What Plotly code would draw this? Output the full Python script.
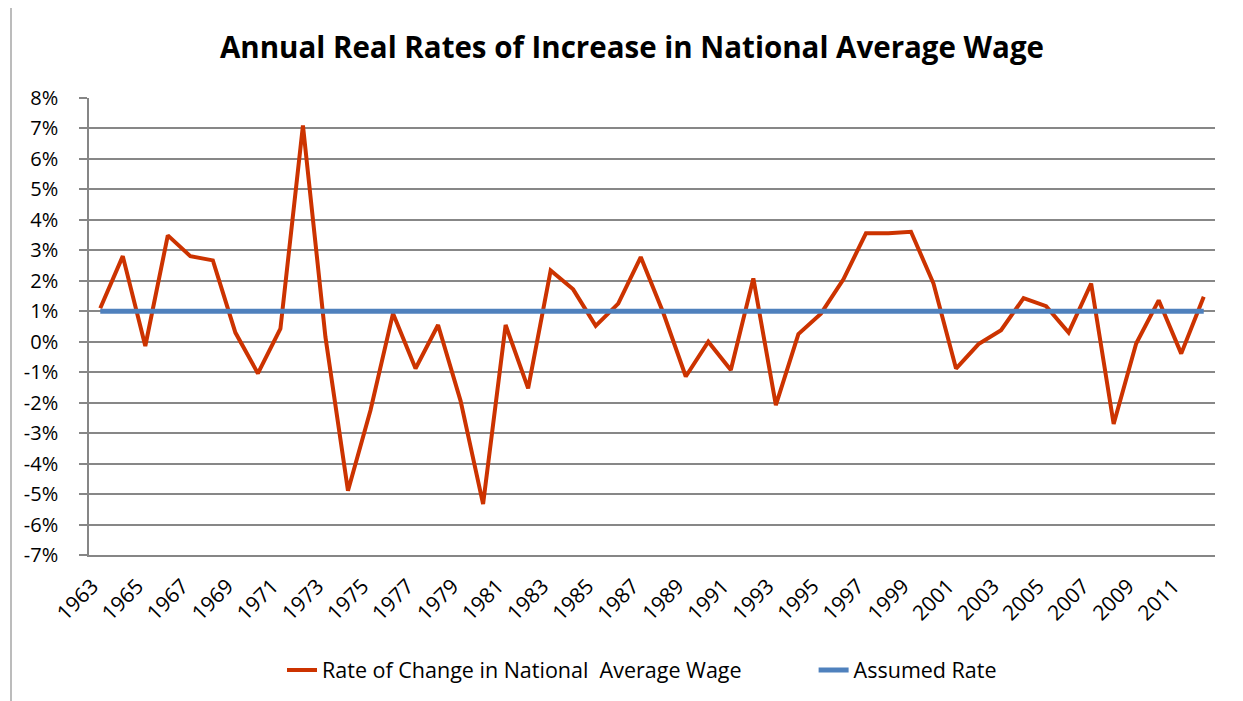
import plotly.graph_objects as go

years = [str(y) for y in range(1963, 2013)]
rate_change = [1.1, 2.81, -0.14, 3.49, 2.81, 2.67, 0.30, -1.04, 0.43, 7.10,
               0.15, -4.89, -2.25, 0.93, -0.88, 0.55, -1.94, -5.33, 0.55, -1.53,
               2.34, 1.72, 0.52, 1.25, 2.78, 0.95, -1.14, 0.0, -0.93, 2.08,
               -2.08, 0.25, 0.92, 2.05, 3.56, 3.56, 3.61, 1.91, -0.88, -0.08,
               0.38, 1.43, 1.17, 0.30, 1.91, -2.70, -0.06, 1.36, -0.39, 1.48]
assumed_rate = [1.0] * len(years)
y_ticks = list(range(-7, 9))
x_ticks = years[::2]

FONT = "Open Sans, sans-serif"

# page body has an 8px margin, so the figure is drawn 8px smaller and offset
W, H = 1235, 693
PAD = "\u00a0" * 12

fig = go.Figure()
fig.add_trace(go.Scatter(
    x=years, y=[v / 100 for v in rate_change], mode="lines",
    name="Rate of Change in National\u00a0 Average Wage" + PAD,
    line=dict(color="#CC3300", width=4), hoverinfo="x+y"))
fig.add_trace(go.Scatter(
    x=years, y=[v / 100 for v in assumed_rate], mode="lines",
    name="Assumed Rate",
    line=dict(color="#4F81BD", width=5), hoverinfo="x+y"))

fig.update_layout(
    width=W, height=H,
    margin=dict(l=81, r=28, t=90, b=146),
    paper_bgcolor="white", plot_bgcolor="white",
    font=dict(family=FONT, size=19, color="black"),
    title=dict(text="<b>Annual Real Rates of Increase in National Average Wage</b>",
               x=(632 - 8) / W, xref="container", xanchor="center",
               y=1 - 40 / H, yanchor="middle",
               font=dict(family=FONT, size=29.5, color="black")),
    showlegend=True,
    legend=dict(orientation="h", x=(282 - 8) / W, xanchor="left", xref="container",
                y=(H - 662) / H, yref="container", yanchor="middle",
                font=dict(family=FONT, size=21.5),
                traceorder="normal"),
    xaxis=dict(type="category", tickmode="array", tickvals=x_ticks, ticktext=x_ticks,
               tickangle=-45, showgrid=False, showline=True, linecolor="#868686",
               linewidth=1.5, ticks="", tickfont=dict(family=FONT, size=21),
               ticklabelshift=-8, ticklabelstandoff=9,
               range=[-0.5, len(years) - 0.5], fixedrange=True),
    yaxis=dict(range=[-0.07, 0.08], tickmode="array", tickvals=[t / 100 for t in y_ticks],
               ticktext=[f"{t}%" for t in y_ticks], showgrid=True,
               gridcolor="#878787", gridwidth=1.5, showline=True, linecolor="#868686",
               linewidth=1.5, ticks="outside", ticklen=8, tickcolor="#868686",
               tickwidth=1.5, zeroline=False, tickfont=dict(family=FONT, size=20),
               ticklabelstandoff=17, fixedrange=True),
    shapes=[dict(type="rect", xref="paper", yref="paper",
                 x0=(11 - 89) / 1126, x1=1.2, y0=-0.5, y1=(555 - 7) / 457,
                 line=dict(color="#A6A6A6", width=1.5), layer="below")],
)

fig.write_html("out.html")
